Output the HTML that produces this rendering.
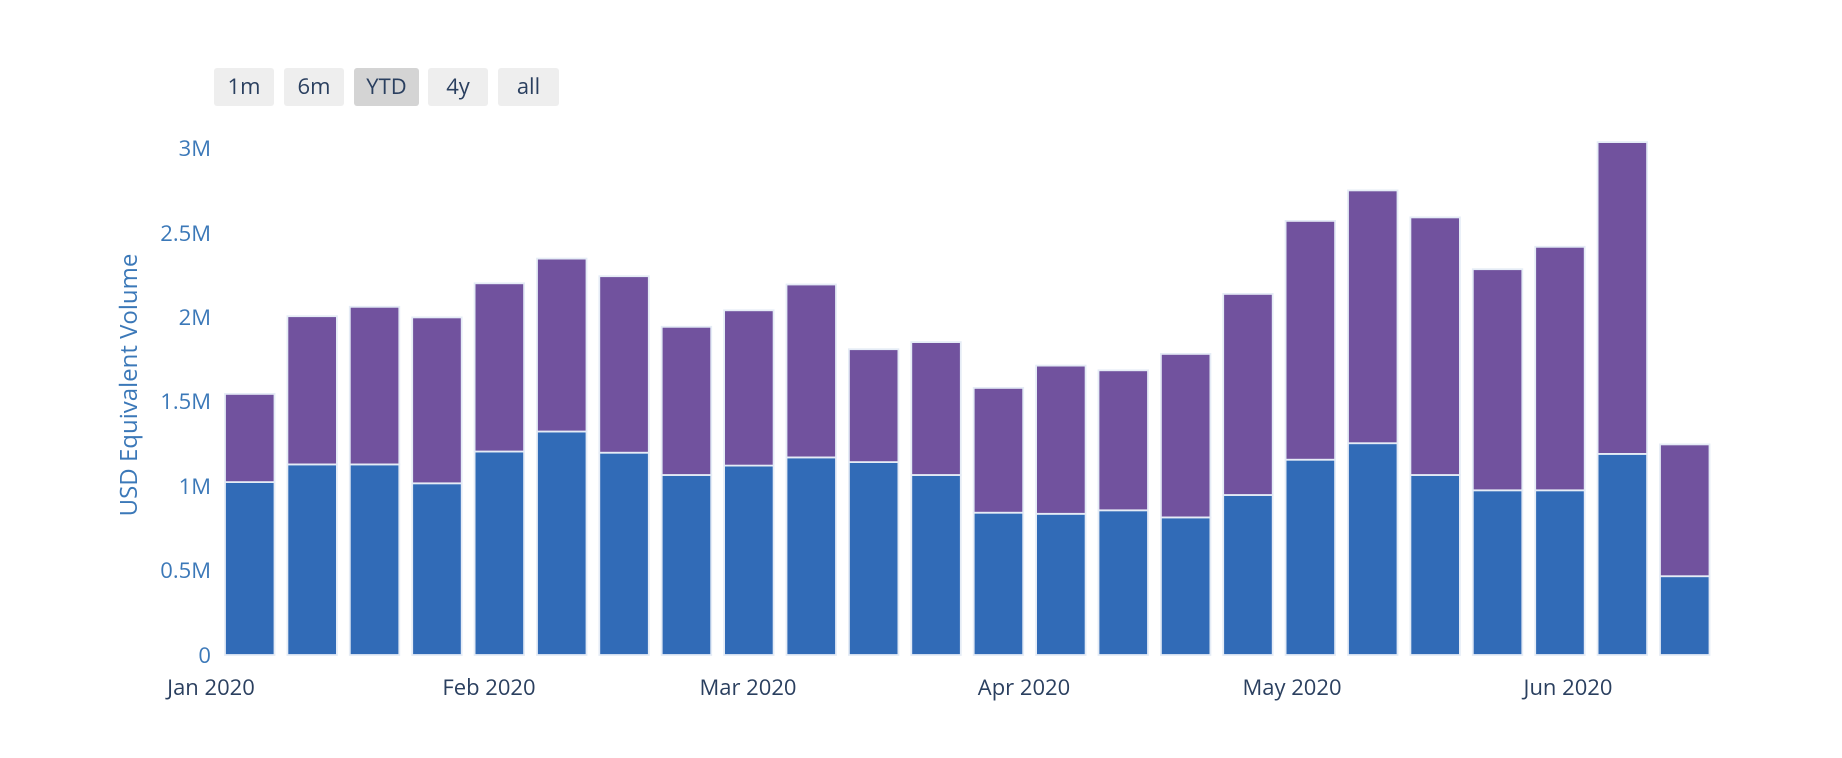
<!DOCTYPE html>
<html><head><meta charset="utf-8"><style>
html,body{margin:0;padding:0;background:#fff;}
svg{display:block;font-family:"Open Sans","Liberation Sans",sans-serif;}
</style></head><body>
<svg width="1842" height="758" viewBox="0 0 1842 758" xmlns="http://www.w3.org/2000/svg">
<rect width="1842" height="758" fill="#fff"/>
<g font-size="22" fill="#2a3f5f" text-anchor="middle">
<rect x="214" y="68" width="60" height="38" rx="3" fill="#eeeeee"/><text x="244" y="94">1m</text>
<rect x="284" y="68" width="60" height="38" rx="3" fill="#eeeeee"/><text x="314" y="94">6m</text>
<rect x="354" y="68" width="65" height="38" rx="3" fill="#d4d4d4"/><text x="386.5" y="94">YTD</text>
<rect x="428" y="68" width="60" height="38" rx="3" fill="#eeeeee"/><text x="458" y="94">4y</text>
<rect x="498" y="68" width="61" height="38" rx="3" fill="#eeeeee"/><text x="528.5" y="94">all</text>
</g>
<g font-size="22" fill="#3b78b8" text-anchor="end">
<text x="211" y="663">0</text>
<text x="211" y="578">0.5M</text>
<text x="211" y="494">1M</text>
<text x="211" y="409">1.5M</text>
<text x="211" y="325">2M</text>
<text x="211" y="241">2.5M</text>
<text x="211" y="156">3M</text>
</g>
<text transform="translate(137,385) rotate(-90)" font-size="24" fill="#3b78b8" text-anchor="middle">USD Equivalent Volume</text>
<g font-size="22" fill="#2a3f5f" text-anchor="middle">
<text x="211" y="695">Jan 2020</text>
<text x="489" y="695">Feb 2020</text>
<text x="748" y="695">Mar 2020</text>
<text x="1024" y="695">Apr 2020</text>
<text x="1292" y="695">May 2020</text>
<text x="1568" y="695">Jun 2020</text>
</g>
<g stroke="#e5ecf6" stroke-width="1.8">
<g fill="#316bb7">
<rect x="225.0" y="482.1" width="49.5" height="172.9"/>
<rect x="287.4" y="464.4" width="49.5" height="190.6"/>
<rect x="349.8" y="464.4" width="49.5" height="190.6"/>
<rect x="412.2" y="483.3" width="49.5" height="171.7"/>
<rect x="474.6" y="451.5" width="49.5" height="203.5"/>
<rect x="537.0" y="431.5" width="49.5" height="223.5"/>
<rect x="599.3" y="452.7" width="49.5" height="202.3"/>
<rect x="661.7" y="475.0" width="49.5" height="180.0"/>
<rect x="724.1" y="465.6" width="49.5" height="189.4"/>
<rect x="786.5" y="457.4" width="49.5" height="197.6"/>
<rect x="848.9" y="462.1" width="49.5" height="192.9"/>
<rect x="911.3" y="475.0" width="49.5" height="180.0"/>
<rect x="973.7" y="512.7" width="49.5" height="142.3"/>
<rect x="1036.1" y="513.8" width="49.5" height="141.2"/>
<rect x="1098.5" y="510.3" width="49.5" height="144.7"/>
<rect x="1160.9" y="517.4" width="49.5" height="137.6"/>
<rect x="1223.2" y="495.0" width="49.5" height="160.0"/>
<rect x="1285.6" y="459.7" width="49.5" height="195.3"/>
<rect x="1348.0" y="443.2" width="49.5" height="211.8"/>
<rect x="1410.4" y="475.0" width="49.5" height="180.0"/>
<rect x="1472.8" y="490.3" width="49.5" height="164.7"/>
<rect x="1535.2" y="490.3" width="49.5" height="164.7"/>
<rect x="1597.6" y="453.9" width="49.5" height="201.1"/>
<rect x="1660.0" y="576.2" width="49.5" height="78.8"/>
</g>
<g fill="#71529e">
<rect x="225.0" y="393.9" width="49.5" height="88.2"/>
<rect x="287.4" y="316.2" width="49.5" height="148.2"/>
<rect x="349.8" y="306.8" width="49.5" height="157.6"/>
<rect x="412.2" y="317.4" width="49.5" height="165.9"/>
<rect x="474.6" y="283.3" width="49.5" height="168.2"/>
<rect x="537.0" y="258.6" width="49.5" height="172.9"/>
<rect x="599.3" y="276.2" width="49.5" height="176.5"/>
<rect x="661.7" y="326.8" width="49.5" height="148.2"/>
<rect x="724.1" y="310.3" width="49.5" height="155.3"/>
<rect x="786.5" y="284.5" width="49.5" height="172.9"/>
<rect x="848.9" y="349.2" width="49.5" height="112.9"/>
<rect x="911.3" y="342.1" width="49.5" height="132.9"/>
<rect x="973.7" y="387.9" width="49.5" height="124.8"/>
<rect x="1036.1" y="365.6" width="49.5" height="148.2"/>
<rect x="1098.5" y="370.3" width="49.5" height="140.0"/>
<rect x="1160.9" y="353.9" width="49.5" height="163.5"/>
<rect x="1223.2" y="293.9" width="49.5" height="201.1"/>
<rect x="1285.6" y="220.9" width="49.5" height="238.8"/>
<rect x="1348.0" y="190.4" width="49.5" height="252.8"/>
<rect x="1410.4" y="217.4" width="49.5" height="257.6"/>
<rect x="1472.8" y="269.2" width="49.5" height="221.1"/>
<rect x="1535.2" y="246.8" width="49.5" height="243.5"/>
<rect x="1597.6" y="142.1" width="49.5" height="311.8"/>
<rect x="1660.0" y="444.4" width="49.5" height="131.8"/>
</g>
</g>
</svg>
</body></html>
